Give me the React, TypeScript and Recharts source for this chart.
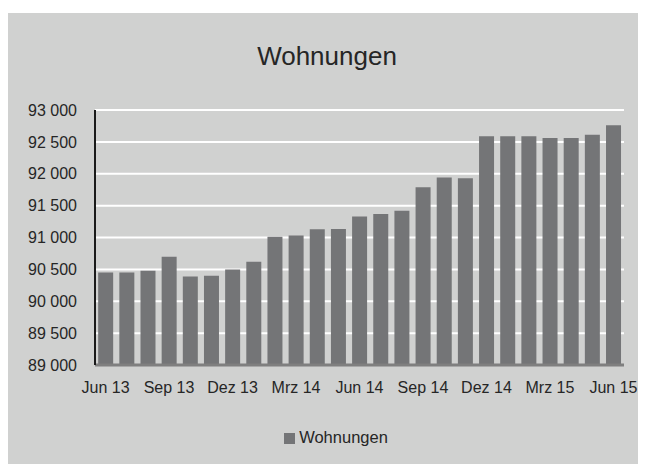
import React from 'react'
import { BarChart, Bar, XAxis, YAxis, CartesianGrid, Legend } from 'recharts'

const months = [
  'Jun 13', 'Jul 13', 'Aug 13', 'Sep 13', 'Okt 13', 'Nov 13', 'Dez 13',
  'Jan 14', 'Feb 14', 'Mrz 14', 'Apr 14', 'Mai 14', 'Jun 14', 'Jul 14',
  'Aug 14', 'Sep 14', 'Okt 14', 'Nov 14', 'Dez 14', 'Jan 15', 'Feb 15',
  'Mrz 15', 'Apr 15', 'Mai 15', 'Jun 15'
]

const wohnungen = [
  90450, 90450, 90480, 90700, 90390, 90400, 90500, 90620, 91010, 91030,
  91130, 91135, 91330, 91370, 91420, 91790, 91940, 91930, 92590, 92590,
  92590, 92560, 92560, 92610, 92760
]

const yTicks = [89000, 89500, 90000, 90500, 91000, 91500, 92000, 92500, 93000]

const data = months.map((monat, i) => ({ monat, Wohnungen: wohnungen[i] }))

const formatNumber = (value: number) =>
  String(value).replace(/\B(?=(\d{3})+(?!\d))/g, ' ')

export default function App() {
  return (
    <div style={{ paddingTop: 5 }}>
      {/* the grey box runs to the window edge, so keep the page from scrolling */}
      <style>{'html, body { overflow: hidden; }'}</style>
      <div
        style={{
          position: 'relative',
          width: 638,
          height: 451,
          background: '#d0d1d0',
          fontFamily: '"Liberation Sans", Arial, sans-serif'
        }}
      >
        <div
          style={{
            position: 'absolute',
            top: 28,
            left: 0,
            width: '100%',
            textAlign: 'center',
            fontSize: 26,
            color: '#262626'
          }}
        >
          Wohnungen
        </div>
        <BarChart
          width={638}
          height={451}
          data={data}
          margin={{ top: 97, right: 22, left: 0, bottom: 50 }}
          barCategoryGap="15%"
        >
          <CartesianGrid vertical={false} stroke="#ffffff" strokeWidth={2} />
          <XAxis
            dataKey="monat"
            interval={2}
            tickLine={false}
            tickSize={0}
            tickMargin={17}
            height={30}
            axisLine={{ stroke: '#7f7f7f', strokeWidth: 3 }}
            tick={{ fill: '#262626', fontSize: 16 }}
          />
          <YAxis
            domain={[89000, 93000]}
            ticks={yTicks}
            width={87}
            tickLine={false}
            tickSize={0}
            tickMargin={18}
            tickFormatter={formatNumber}
            axisLine={{ stroke: '#1a1a1a', strokeWidth: 2 }}
            tick={{ fill: '#262626', fontSize: 16 }}
          />
          <Legend
            verticalAlign="bottom"
            iconType="square"
            iconSize={11}
            wrapperStyle={{ bottom: 17, left: 25, fontSize: 16.5 }}
            formatter={(value) => <span style={{ color: '#262626' }}>{value}</span>}
          />
          <Bar dataKey="Wohnungen" fill="#747577" isAnimationActive={false} />
        </BarChart>
      </div>
    </div>
  )
}
